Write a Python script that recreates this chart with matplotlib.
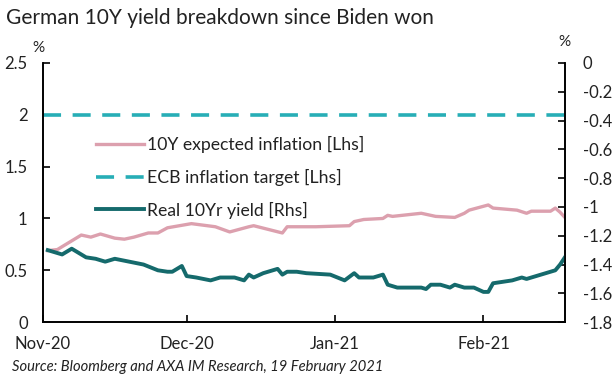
import matplotlib
matplotlib.use("Agg")
import matplotlib.pyplot as plt
import matplotlib.dates as mdates
import pandas as pd
from matplotlib.lines import Line2D

plt.rcParams['font.family'] = ['Lato', 'DejaVu Sans']
plt.rcParams['axes.unicode_minus'] = False

# 10Y expected inflation (left axis, %)
infl_dates = ["2020-11-02", "2020-11-04", "2020-11-09", "2020-11-11", "2020-11-13",
              "2020-11-16", "2020-11-18", "2020-11-20", "2020-11-23", "2020-11-25",
              "2020-11-27", "2020-12-02", "2020-12-07", "2020-12-10", "2020-12-14",
              "2020-12-15", "2020-12-21", "2020-12-22", "2020-12-28", "2021-01-04",
              "2021-01-05", "2021-01-07", "2021-01-11", "2021-01-12", "2021-01-13",
              "2021-01-15", "2021-01-19", "2021-01-22", "2021-01-26", "2021-01-28",
              "2021-01-29", "2021-02-02", "2021-02-03", "2021-02-08", "2021-02-10",
              "2021-02-11", "2021-02-15", "2021-02-16", "2021-02-17", "2021-02-18"]
infl_vals = [0.69, 0.70, 0.84, 0.82, 0.85,
             0.81, 0.80, 0.82, 0.86, 0.86,
             0.91, 0.95, 0.92, 0.87, 0.92,
             0.93, 0.86, 0.92, 0.92, 0.93,
             0.97, 0.99, 1.00, 1.03, 1.02,
             1.03, 1.05, 1.02, 1.01, 1.05,
             1.08, 1.13, 1.10, 1.08, 1.05,
             1.07, 1.07, 1.10, 1.06, 1.01]

# Real 10Y yield (right axis, %)
real_dates = ["2020-11-02", "2020-11-03", "2020-11-05", "2020-11-07", "2020-11-08",
              "2020-11-10", "2020-11-12", "2020-11-14", "2020-11-16", "2020-11-19",
              "2020-11-22", "2020-11-25", "2020-11-27", "2020-11-28", "2020-11-29",
              "2020-11-30", "2020-12-01", "2020-12-03", "2020-12-06", "2020-12-08",
              "2020-12-11", "2020-12-13", "2020-12-14", "2020-12-15", "2020-12-17",
              "2020-12-20", "2020-12-21", "2020-12-22", "2020-12-24", "2020-12-26",
              "2020-12-31", "2021-01-03", "2021-01-05", "2021-01-06", "2021-01-09",
              "2021-01-11", "2021-01-12", "2021-01-14", "2021-01-19", "2021-01-20",
              "2021-01-21", "2021-01-23", "2021-01-25", "2021-01-26", "2021-01-28",
              "2021-01-30", "2021-02-01", "2021-02-02", "2021-02-03", "2021-02-05",
              "2021-02-07", "2021-02-09", "2021-02-10", "2021-02-14", "2021-02-16",
              "2021-02-17", "2021-02-18"]
real_vals = [-1.30, -1.31, -1.33, -1.29, -1.31,
             -1.35, -1.36, -1.38, -1.36, -1.38,
             -1.40, -1.44, -1.45, -1.45, -1.43,
             -1.41, -1.48, -1.49, -1.51, -1.49,
             -1.49, -1.51, -1.47, -1.49, -1.46,
             -1.43, -1.47, -1.45, -1.45, -1.46,
             -1.47, -1.51, -1.46, -1.49, -1.49,
             -1.47, -1.54, -1.56, -1.56, -1.57,
             -1.54, -1.54, -1.56, -1.54, -1.56,
             -1.56, -1.59, -1.59, -1.53, -1.52,
             -1.51, -1.49, -1.50, -1.46, -1.44,
             -1.40, -1.35]

ecb_target = 2.0
month_ticks = ["2020-11-01", "2020-12-01", "2021-01-01", "2021-02-01"]

pink = '#dca0ae'
cyan = '#27aeb6'
teal = '#156a6c'

fig = plt.figure(figsize=(6.14, 3.79), dpi=100)
ax = fig.add_axes([0.070, 0.150, 0.850, 0.684])
ax2 = ax.twinx()

d_infl = pd.to_datetime(infl_dates)
d_real = pd.to_datetime(real_dates)
x0 = pd.Timestamp("2020-11-01")
x1 = pd.Timestamp("2021-02-18")

ax.plot(d_infl, infl_vals, color=pink, lw=2.4, solid_joinstyle='round')
ax.plot([x0, x1], [ecb_target, ecb_target], color=cyan, lw=2.6, dashes=(5, 3.2))
ax2.plot(d_real, real_vals, color=teal, lw=2.8, solid_joinstyle='round')

ax.set_xlim(x0, x1)
ax.set_ylim(0, 2.5)
ax2.set_ylim(-1.8, 0)
ax.set_yticks([0, 0.5, 1, 1.5, 2, 2.5])
ax.set_yticklabels(['0', '0.5', '1', '1.5', '2', '2.5'])
r_ticks = [-1.8, -1.6, -1.4, -1.2, -1, -0.8, -0.6, -0.4, -0.2, 0]
ax2.set_yticks(r_ticks)
ax2.set_yticklabels([f'{v:g}' for v in r_ticks])
ax.set_xticks(pd.to_datetime(month_ticks))
ax.xaxis.set_major_formatter(mdates.DateFormatter('%b-%y'))

for a in (ax, ax2):
    a.spines['top'].set_visible(False)
    for s in a.spines.values():
        s.set_linewidth(1.2)
ax.tick_params(axis='both', direction='in', length=5, width=1.2, labelsize=12,
               colors='black', labelcolor='#222222')
ax.tick_params(axis='x', pad=10)
ax.tick_params(axis='y', pad=11)
ax2.tick_params(axis='y', direction='in', length=5, width=1.2, labelsize=12,
                labelcolor='#222222', pad=13)

fig.text(0.062, 0.873, '%', fontsize=11, color='#222222', ha='center', va='center')
fig.text(0.920, 0.889, '%', fontsize=11, color='#222222', ha='center', va='center')

fig.text(0.010, 0.952, 'German 10Y yield breakdown since Biden won', fontsize=15,
         color='#222222', va='center')
fig.text(0.020, 0.031, 'Source: Bloomberg and AXA IM Research, 19 February 2021',
         fontsize=10.6, style='italic', color='#222222', va='center')

handles = [Line2D([], [], color=pink, lw=2.4),
           Line2D([], [], color=cyan, lw=2.6, dashes=(5, 3.2)),
           Line2D([], [], color=teal, lw=2.8)]
labels = ['10Y expected inflation [Lhs]', 'ECB inflation target [Lhs]',
          'Real 10Yr yield [Rhs]']
ax2.legend(handles, labels, loc='upper left', bbox_to_anchor=(0.071, 0.78),
           frameon=False, fontsize=12.7, handlelength=2.7, handletextpad=0.2,
           labelspacing=0.9, labelcolor='#222222')

fig.savefig('out.png', dpi=100)
